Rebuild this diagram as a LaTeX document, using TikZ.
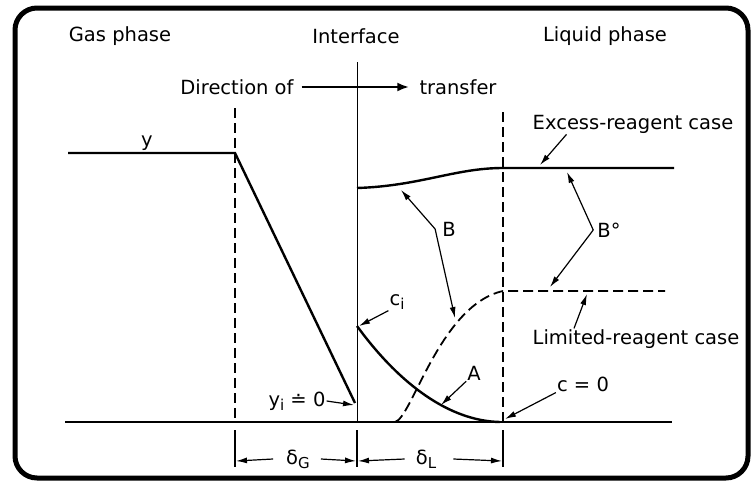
\documentclass[tikz,border=0pt]{standalone}
\usepackage{fontspec}
\setmainfont{DejaVu Sans}
\usetikzlibrary{arrows.meta, positioning}
\newcommand{\lowsub}[1]{{\fontsize{15}{17}\selectfont\raisebox{-4pt}{#1}}}

\begin{document}
\begin{tikzpicture}[
        x=1pt, y=-1pt,
        lbl/.style={font=\fontsize{19.5}{22}\selectfont, inner sep=1pt},
        prof/.style={line width=2.4pt},
        film/.style={line width=1.8pt, dash pattern=on 10pt off 5pt},
        ldr/.style={line width=1.2pt, -{Latex[length=11pt, width=6pt]}},
        dim/.style={line width=1.2pt, -{Latex[length=11pt, width=6pt]}}
    ]
        \useasboundingbox (0,0) rectangle (754,485);
        \draw[line width=5pt, rounded corners=22pt] (15,8) rectangle (748,478);

        % Headings
        \node[lbl] (gas) at (120,36) {Gas phase};
        \node[lbl] (intf) at (356,36) {Interface};
        \node[lbl] (liq) at (605,36) {Liquid phase};

        % Direction of transfer
        \node[lbl] (dir) at (237,87) {Direction of};
        \node[lbl] (trf) at (458,87) {transfer};
        \draw[line width=2.4pt, -{Latex[length=12pt, width=9pt]}, shorten <=7pt, shorten >=9pt] (dir.east) -- (trf.west);

        % Interface and film boundaries
        \draw[line width=1pt] (357,62) -- (357,422);
        \draw[film] (235,108) -- (235,422);
        \draw[film] (503,112) -- (503,422);
        \draw[line width=1.3pt] (65,422) -- (672,422);

        % Gas-side profile
        \draw[prof] (68,153) -- (235,153) -- (355,403);
        \node[lbl, anchor=base] (y) at (147,146) {y};

        % Excess-reagent B profile
        \draw[prof] (357,188) .. controls (420,186) and (455,168) .. (503,168) -- (674,168);
        % Limited-reagent B profile
        \draw[film] (395,422) .. controls (412,418) and (440,305) .. (503,291) -- (665,291);
        % A profile
        \draw[prof] (357,326) .. controls (400,385) and (450,421) .. (500,422);

        % Points hit by leaders
        \coordinate (exP) at (540,165);
        \coordinate (bP1) at (401,190);
        \coordinate (bP2) at (455,318);
        \coordinate (boP1) at (567,172);
        \coordinate (boP2) at (550,287);
        \coordinate (limP) at (587,294);
        \coordinate (ciP) at (359,326);
        \coordinate (aP) at (441,405);
        \coordinate (czP) at (505,419);
        \coordinate (yiP) at (354,405);

        % Labels with leaders
        \node[lbl] (exc) at (633,124) {Excess-reagent case};
        \draw[ldr] ([xshift=35pt]exc.south west) -- (exP);
        \node[lbl] (bl) at (449,229) {B};
        \draw[ldr] ([xshift=-6pt]bl.west) -- (bP1);
        \draw[ldr] ([xshift=-6pt]bl.west) -- (bP2);
        \node[lbl] (bo) at (609,230) {B°};
        \draw[ldr] ([xshift=-3pt]bo.west) -- (boP1);
        \draw[ldr] ([xshift=-3pt]bo.west) -- (boP2);
        \node[lbl] (lim) at (636,339) {Limited-reagent case};
        \draw[ldr] ([xshift=-62pt]lim.north) -- (limP);
        \node[lbl] (ci) at (397,302) {c\lowsub{i}};
        \draw[ldr] (ci.south west) -- (ciP);
        \node[lbl] (al) at (474,373) {A};
        \draw[ldr] (al.south west) -- (aP);
        \node[lbl] (cz) at (583,384) {c = 0};
        \draw[ldr] (cz.south west) -- (czP);
        \node[lbl] (yi) at (297,401) {y\lowsub{i} ≐ 0};
        \draw[ldr] (yi.east) -- (yiP);

        % Film thicknesses
        \draw[line width=1.2pt] (235,430) -- (235,467);
        \draw[line width=1.2pt] (357,430) -- (357,467);
        \draw[line width=1.2pt] (503,430) -- (503,467);
        \coordinate (g0) at (236,461);
        \coordinate (g1) at (356,461);
        \coordinate (l0) at (358,461);
        \coordinate (l1) at (502,461);
        \node[lbl] (dG) at (298,459) {δ\lowsub{G}};
        \node[lbl] (dL) at (426,459) {δ\lowsub{L}};
        \draw[dim] ([xshift=-12pt]dG.west) -- (g0);
        \draw[dim] ([xshift=10pt]dG.east) -- (g1);
        \draw[dim] ([xshift=-10pt]dL.west) -- (l0);
        \draw[dim] ([xshift=16pt]dL.east) -- (l1);
    \end{tikzpicture}
\end{document}
